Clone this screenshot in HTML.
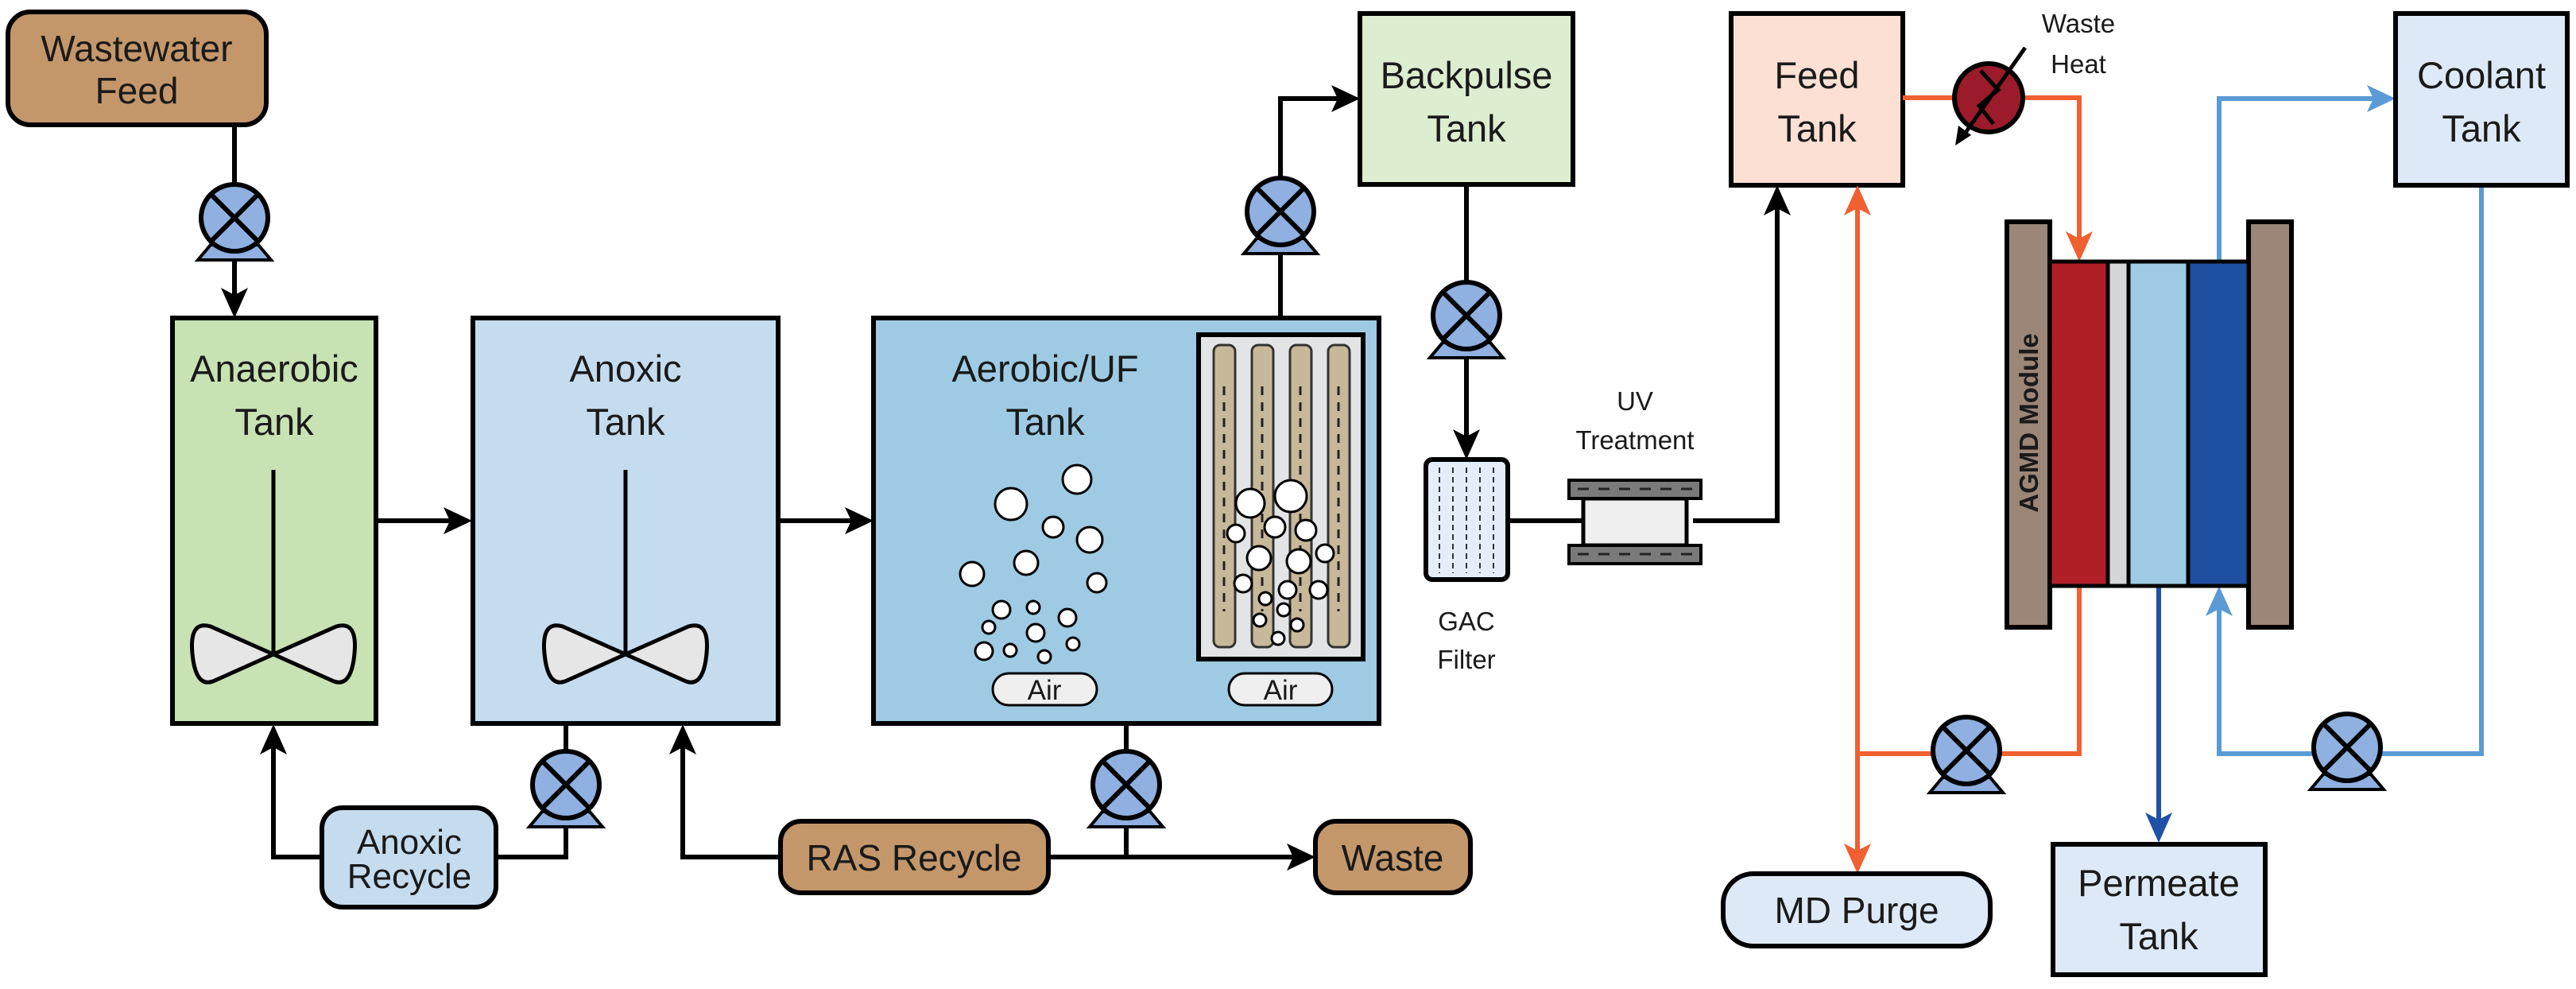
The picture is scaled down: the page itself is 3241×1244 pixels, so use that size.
<!DOCTYPE html>
<html><head><meta charset="utf-8"><style>
html,body{margin:0;padding:0;background:#fff;}
svg{display:block;}
text{font-family:"Liberation Sans",sans-serif;fill:#1a1a1a;}
</style></head><body>
<svg width="3241" height="1244" viewBox="0 0 3241 1244" xmlns="http://www.w3.org/2000/svg">
<defs>
<g id="pump">
<polygon points="-46,53 46,53 30,34 -30,34" fill="#8fb0e0" stroke="#000" stroke-width="4"/>
<circle r="42" fill="#8fb0e0" stroke="#000" stroke-width="6"/>
<line x1="-29" y1="-29" x2="29" y2="29" stroke="#000" stroke-width="6"/>
<line x1="-29" y1="29" x2="29" y2="-29" stroke="#000" stroke-width="6"/>
</g>
<g id="bladeL"><path d="M0,0 L-79,-35 Q-106,-43 -102,-1 Q-98,42 -76,34 Z" fill="#e6e6e6" stroke="#000" stroke-width="5" stroke-linejoin="round"/></g>
</defs>

<g stroke="#000" stroke-width="6" fill="none">
<path d="M295,157 V232"/>
<path d="M295,327 V385"/>
<path d="M473,655 H580"/>
<path d="M979,655 H1085"/>
<path d="M712,910 V945 M712,1040 V1078 H624"/>
<path d="M405,1078 H344 V925"/>
<path d="M982,1078 H859 V925"/>
<path d="M1417,910 V945 M1417,1040 V1078 M1319,1078 H1640"/>
<path d="M1611,421 V319 M1611,224 V124 H1695"/>
<path d="M1845,232 V355 M1845,450 V563"/>
<path d="M1897,655 H1994"/>
<path d="M2130,655 H2236 V248"/>
</g>
<g fill="#000">
<polygon points="295,400 278,362 295,371 312,362"/>
<polygon points="594,655 558,638 566,655 558,672"/>
<polygon points="1099,655 1063,638 1071,655 1063,672"/>
<polygon points="344,911 327,949 344,940 361,949"/>
<polygon points="859,911 842,949 859,940 876,949"/>
<polygon points="1655,1078 1619,1061 1627,1078 1619,1095"/>
<polygon points="1711,124 1675,107 1683,124 1675,141"/>
<polygon points="1845,578 1828,540 1845,549 1862,540"/>
<polygon points="2236,233 2219,271 2236,262 2253,271"/>
</g>

<rect x="10" y="15" width="325" height="142" rx="28" fill="#c4976a" stroke="#000" stroke-width="6"/>
<text x="172" y="77" font-size="46" text-anchor="middle">Wastewater</text>
<text x="172" y="130" font-size="46" text-anchor="middle">Feed</text>
<use href="#pump" x="295" y="274"/>

<rect x="217" y="400" width="256" height="510" fill="#c8e2b4" stroke="#000" stroke-width="6"/>
<text x="345" y="480" font-size="47" text-anchor="middle">Anaerobic</text>
<text x="345" y="547" font-size="47" text-anchor="middle">Tank</text>
<line x1="344" y1="591" x2="344" y2="823" stroke="#000" stroke-width="5"/>
<use href="#bladeL" x="344" y="823"/>
<use href="#bladeL" transform="translate(344,823) scale(-1,1)"/>

<rect x="595" y="400" width="384" height="510" fill="#c5dcef" stroke="#000" stroke-width="6"/>
<text x="787" y="480" font-size="47" text-anchor="middle">Anoxic</text>
<text x="787" y="547" font-size="47" text-anchor="middle">Tank</text>
<line x1="787" y1="591" x2="787" y2="823" stroke="#000" stroke-width="5"/>
<use href="#bladeL" x="787" y="823"/>
<use href="#bladeL" transform="translate(787,823) scale(-1,1)"/>
<use href="#pump" x="712" y="987"/>

<rect x="405" y="1016" width="219" height="125" rx="26" fill="#c5dcef" stroke="#000" stroke-width="6"/>
<text x="515" y="1074" font-size="44" text-anchor="middle">Anoxic</text>
<text x="515" y="1117" font-size="44" text-anchor="middle">Recycle</text>

<rect x="982" y="1033" width="337" height="90" rx="26" fill="#c4976a" stroke="#000" stroke-width="6"/>
<text x="1150" y="1095" font-size="46" text-anchor="middle">RAS Recycle</text>
<rect x="1655" y="1033" width="195" height="90" rx="26" fill="#c4976a" stroke="#000" stroke-width="6"/>
<text x="1752" y="1095" font-size="46" text-anchor="middle">Waste</text>

<rect x="1099" y="400" width="636" height="510" fill="#9ecbe3" stroke="#000" stroke-width="6"/>
<text x="1315" y="480" font-size="47" text-anchor="middle">Aerobic/UF</text>
<text x="1315" y="547" font-size="47" text-anchor="middle">Tank</text>
<rect x="1508" y="421" width="207" height="408" fill="#e3e4e6" stroke="#000" stroke-width="6"/>
<g fill="#c8b89a" stroke="#333" stroke-width="3">
<rect x="1527" y="434" width="27" height="380" rx="8"/>
<rect x="1575" y="434" width="27" height="380" rx="8"/>
<rect x="1623" y="434" width="27" height="380" rx="8"/>
<rect x="1671" y="434" width="27" height="380" rx="8"/>
</g>
<g stroke="#222" stroke-width="3" stroke-dasharray="11,9">
<line x1="1540" y1="486" x2="1540" y2="769"/>
<line x1="1588" y1="486" x2="1588" y2="769"/>
<line x1="1636" y1="486" x2="1636" y2="769"/>
<line x1="1684" y1="486" x2="1684" y2="769"/>
</g>
<g fill="#fff" stroke="#000" stroke-width="3">
<circle cx="1355" cy="603" r="18"/><circle cx="1272" cy="634" r="20"/><circle cx="1325" cy="663" r="13"/><circle cx="1371" cy="679" r="16"/><circle cx="1291" cy="708" r="15"/><circle cx="1223" cy="722" r="15"/><circle cx="1380" cy="733" r="12"/><circle cx="1260" cy="767" r="11"/><circle cx="1300" cy="764" r="8"/><circle cx="1343" cy="777" r="11"/><circle cx="1244" cy="789" r="8"/><circle cx="1303" cy="796" r="11"/><circle cx="1238" cy="819" r="11"/><circle cx="1271" cy="818" r="8"/><circle cx="1314" cy="826" r="8"/><circle cx="1350" cy="810" r="8"/>
<circle cx="1573" cy="633" r="18"/><circle cx="1624" cy="624" r="20"/><circle cx="1555" cy="671" r="11"/><circle cx="1604" cy="663" r="13"/><circle cx="1643" cy="667" r="13"/><circle cx="1584" cy="702" r="15"/><circle cx="1634" cy="706" r="15"/><circle cx="1667" cy="696" r="11"/><circle cx="1564" cy="734" r="11"/><circle cx="1620" cy="742" r="11"/><circle cx="1659" cy="742" r="11"/><circle cx="1592" cy="753" r="8"/><circle cx="1615" cy="767" r="8"/><circle cx="1585" cy="780" r="8"/><circle cx="1632" cy="786" r="8"/><circle cx="1608" cy="803" r="8"/>
</g>
<rect x="1249" y="847" width="131" height="40" rx="20" fill="#efefef" stroke="#000" stroke-width="3"/>
<text x="1314" y="880" font-size="35" text-anchor="middle">Air</text>
<rect x="1546" y="847" width="130" height="40" rx="20" fill="#efefef" stroke="#000" stroke-width="3"/>
<text x="1611" y="880" font-size="35" text-anchor="middle">Air</text>
<use href="#pump" x="1611" y="266"/>
<use href="#pump" x="1417" y="987"/>

<rect x="1711" y="17" width="268" height="215" fill="#dcedd0" stroke="#000" stroke-width="6"/>
<text x="1845" y="111" font-size="47" text-anchor="middle">Backpulse</text>
<text x="1845" y="178" font-size="47" text-anchor="middle">Tank</text>
<use href="#pump" x="1845" y="397"/>

<rect x="1794" y="578" width="103" height="151" rx="8" fill="#e3eefa" stroke="#000" stroke-width="6"/>
<g stroke="#333" stroke-width="2" stroke-dasharray="7,5">
<line x1="1811" y1="588" x2="1811" y2="721"/><line x1="1828" y1="588" x2="1828" y2="721"/><line x1="1845" y1="588" x2="1845" y2="721"/><line x1="1862" y1="588" x2="1862" y2="721"/><line x1="1879" y1="588" x2="1879" y2="721"/>
</g>
<text x="1845" y="793" font-size="33" text-anchor="middle">GAC</text>
<text x="1845" y="841" font-size="33" text-anchor="middle">Filter</text>

<rect x="1992" y="627" width="130" height="59" fill="#efefef" stroke="#000" stroke-width="5"/>
<rect x="1974" y="604" width="166" height="23" fill="#7a7a7a" stroke="#000" stroke-width="4"/>
<rect x="1974" y="686" width="166" height="23" fill="#7a7a7a" stroke="#000" stroke-width="4"/>
<g stroke="#222" stroke-width="3" stroke-dasharray="14,12">
<line x1="1985" y1="615" x2="2135" y2="615"/><line x1="1985" y1="697" x2="2135" y2="697"/>
</g>
<text x="2057" y="516" font-size="33" text-anchor="middle">UV</text>
<text x="2057" y="565" font-size="33" text-anchor="middle">Treatment</text>

<rect x="2178" y="17" width="216" height="216" fill="#fde0d4" stroke="#000" stroke-width="6"/>
<text x="2286" y="111" font-size="47" text-anchor="middle">Feed</text>
<text x="2286" y="178" font-size="47" text-anchor="middle">Tank</text>

<g stroke="#f06030" stroke-width="6" fill="none">
<path d="M2394,123 H2460 M2544,123 H2616 V305"/>
<path d="M2616,737 V948 H2516 M2432,948 H2337"/>
<path d="M2337,255 V1075"/>
</g>
<g fill="#f06030">
<polygon points="2616,329 2599,291 2616,300 2633,291"/>
<polygon points="2337,233 2320,271 2337,262 2354,271"/>
<polygon points="2337,1099 2320,1061 2337,1070 2354,1061"/>
</g>
<circle cx="2502" cy="123" r="43" fill="#9b1b2b" stroke="#000" stroke-width="6"/>
<path d="M2492,89 L2514,113 L2490,133 L2508,156" stroke="#000" stroke-width="5" fill="none"/>
<line x1="2548" y1="60" x2="2470" y2="171" stroke="#000" stroke-width="5"/>
<polygon points="2460,183 2464,158 2480,170" fill="#000"/>
<text x="2615" y="41" font-size="33" text-anchor="middle">Waste</text>
<text x="2615" y="92" font-size="33" text-anchor="middle">Heat</text>

<g stroke="#5b9bd5" stroke-width="6" fill="none">
<path d="M2792,329 V124 H2995"/>
<path d="M3122,233 V948 H2995 M2911,948 H2792 V757"/>
</g>
<g fill="#5b9bd5">
<polygon points="3014,124 2978,107 2986,124 2978,141"/>
<polygon points="2792,737 2775,775 2792,766 2809,775"/>
</g>
<path d="M2716,737 V1038" stroke="#2050a8" stroke-width="6" fill="none"/>
<polygon points="2716,1060 2699,1022 2716,1031 2733,1022" fill="#2050a8"/>

<rect x="2525" y="279" width="54" height="510" fill="#9b8677" stroke="#000" stroke-width="6"/>
<rect x="2829" y="279" width="54" height="510" fill="#9b8677" stroke="#000" stroke-width="6"/>
<rect x="2579" y="329" width="73" height="408" fill="#b01e28" stroke="#000" stroke-width="5"/>
<rect x="2652" y="329" width="26" height="408" fill="#d4d6d9" stroke="#000" stroke-width="5"/>
<rect x="2678" y="329" width="75" height="408" fill="#9ecbe3" stroke="#000" stroke-width="5"/>
<rect x="2753" y="329" width="76" height="408" fill="#1f4fa0" stroke="#000" stroke-width="5"/>
<text transform="translate(2564,532) rotate(-90)" font-size="33" font-weight="bold" text-anchor="middle">AGMD Module</text>

<use href="#pump" x="2474" y="944"/>
<use href="#pump" x="2953" y="940"/>

<rect x="3014" y="17" width="216" height="216" fill="#dde9f6" stroke="#000" stroke-width="6"/>
<text x="3122" y="111" font-size="47" text-anchor="middle">Coolant</text>
<text x="3122" y="178" font-size="47" text-anchor="middle">Tank</text>

<rect x="2168" y="1099" width="336" height="91" rx="38" fill="#dde9f6" stroke="#000" stroke-width="6"/>
<text x="2336" y="1161" font-size="46" text-anchor="middle">MD Purge</text>

<rect x="2583" y="1062" width="267" height="164" fill="#dde9f6" stroke="#000" stroke-width="6"/>
<text x="2716" y="1127" font-size="47" text-anchor="middle">Permeate</text>
<text x="2716" y="1194" font-size="47" text-anchor="middle">Tank</text>
</svg>
</body></html>
